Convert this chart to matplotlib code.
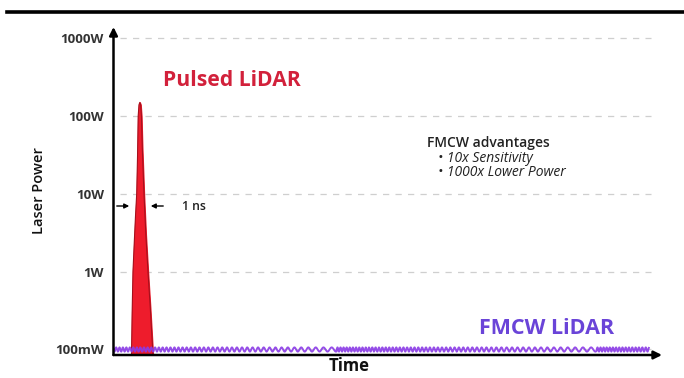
import numpy as np
import matplotlib
matplotlib.use("Agg")
import matplotlib.pyplot as plt
from matplotlib.lines import Line2D

# ---- data ----
power_ticks = [0.1, 1, 10, 100, 1000]
power_labels = ["100mW", "1W", "10W", "100W", "1000W"]

# pulsed lidar spike (time in arbitrary units, power in W)
pulse_t = [3.28, 3.4, 3.55, 3.8, 4.0, 4.23, 4.38, 4.5, 4.65, 4.8,
           4.95, 5.1, 5.25, 5.56, 5.9, 6.29, 6.7, 7.2]
pulse_w = [0.085, 0.3, 1, 2.5, 5, 10, 30, 100, 140, 150,
           140, 100, 40, 10, 3, 1, 0.35, 0.085]

# fmcw lidar: continuous low power level
fmcw_level = 0.1
fmcw_start, fmcw_end = 0.0, 97.6
chirp_starts = [-6.6, 40.7, 88.1]   # where the chirp restarts

advantages = ["10x Sensitivity", "1000x Lower Power"]

# ---- figure ----
W, H = 684, 378
fig = plt.figure(figsize=(W / 100, H / 100), dpi=100)
fig.patch.set_facecolor("white")

x0, x1 = 113.5, 662.0      # pixel span of axes
y_bot, y_top = 355.0, 27.0
ax = fig.add_axes([x0 / W, 1 - y_bot / H, (x1 - x0) / W, (y_bot - y_top) / H])
ax.set_yscale("log")
ax.set_xlim(0, 100)
ax.set_ylim(10 ** -1.0707, 10 ** 3.145)
for s in ax.spines.values():
    s.set_visible(False)
ax.set_xticks([])
ax.set_yticks(power_ticks)
ax.set_yticklabels(power_labels)
ax.yaxis.set_minor_locator(matplotlib.ticker.NullLocator())
ax.tick_params(axis="y", length=0, pad=7, labelsize=9.5, labelcolor="#333333")
for lab in ax.get_yticklabels():
    lab.set_fontfamily("Open Sans")
    lab.set_fontweight("bold")

# dashed grid
ax.hlines(power_ticks, 1.2, 98, colors="#cfcfcf", linestyles=(0, (5, 5)), lw=0.9, zorder=1)

# pulse
ybase = ax.get_ylim()[0]
ax.fill_between(pulse_t, pulse_w, ybase, color="#ee1c2c", zorder=3)
ax.plot(pulse_t, pulse_w, color="#a5101c", lw=0.8, zorder=4)

# fmcw wave (chirped wiggle drawn around the constant level)
t = np.linspace(fmcw_start, fmcw_end, 6000)
f0, f1, L = 1 / 0.55, 1 / 1.6, 47.4
phase = np.zeros_like(t)
for cs in chirp_starts:
    m = t >= cs
    u = t[m] - cs
    phase[m] = 2 * np.pi * (f0 * u - (f0 - f1) * u ** 2 / (2 * L))
wave = fmcw_level * 10 ** (0.027 * np.sin(phase))
ax.plot(t, wave, color="#8a3ae6", lw=1.4, alpha=0.9, zorder=5)

# axes arrows
ax.annotate("", xy=(0, 1), xytext=(0, 0), xycoords="axes fraction",
            arrowprops=dict(arrowstyle="-|>", color="black", lw=1.8,
                            mutation_scale=12, shrinkA=0, shrinkB=0), zorder=6)
ax.annotate("", xy=(1, 0), xytext=(0, 0), xycoords="axes fraction",
            arrowprops=dict(arrowstyle="-|>", color="black", lw=1.8,
                            mutation_scale=12, shrinkA=0, shrinkB=0), zorder=6)

# 1 ns markers
yp = 1 - 206 / H
fig.add_artist(matplotlib.patches.FancyArrowPatch((114 / W, yp), (132 / W, yp),
               transform=fig.transFigure, arrowstyle="-|>", mutation_scale=7,
               color="black", lw=1))
fig.add_artist(matplotlib.patches.FancyArrowPatch((166 / W, yp), (148 / W, yp),
               transform=fig.transFigure, arrowstyle="-|>", mutation_scale=7,
               color="black", lw=1))
fig.text(182 / W, 1 - 210 / H, "1 ns", fontsize=8.8, family="Open Sans",
         fontweight="semibold", color="#222222")

# labels
fig.text(163 / W, 1 - 86 / H, "Pulsed LiDAR", fontsize=15.2, family="Open Sans",
         fontweight="bold", color="#d2213b")
fig.text(479 / W, 1 - 334 / H, "FMCW LiDAR", fontsize=15.5, family="Open Sans",
         fontweight="bold", color="#6a44d8")
fig.text(427 / W, 1 - 147 / H, "FMCW advantages", fontsize=10, family="Open Sans",
         fontweight="semibold", color="#222222")
for i, a in enumerate(advantages):
    fig.text(438 / W, 1 - (162 + 14 * i) / H, "\u2022 " + a, fontsize=10,
             family="Open Sans", style="italic", color="#222222")

fig.text(39 / W, 1 - 191 / H, "Laser Power", rotation=90, ha="center", va="center",
         fontsize=10.5, family="Open Sans", fontweight="semibold", color="#111111")
fig.text(349 / W, 1 - 371 / H, "Time", ha="center", fontsize=12, family="Open Sans",
         fontweight="bold", color="#111111")

# top rule
fig.add_artist(Line2D([7 / W, 1], [1 - 12 / H, 1 - 12 / H], color="black", lw=2.6,
                      transform=fig.transFigure))

fig.savefig("out.png", dpi=100)
